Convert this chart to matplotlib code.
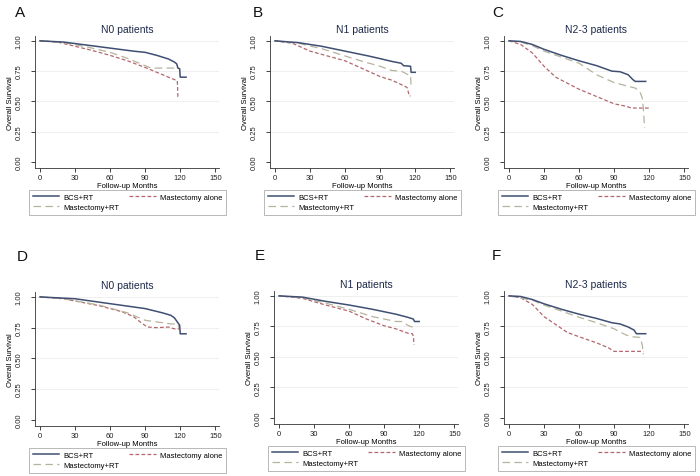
import matplotlib
matplotlib.use("Agg")
import matplotlib.pyplot as plt

plt.rcParams["font.family"] = ["Liberation Sans", "DejaVu Sans"]

# ---- data ----
# each curve: months, survival
A_bcs_x = [0, 20, 40, 60, 80, 90, 100, 110, 115, 117, 118, 119.5, 120, 125]
A_bcs_y = [1.0, 0.99, 0.965, 0.94, 0.915, 0.905, 0.88, 0.85, 0.825, 0.81, 0.775, 0.77, 0.70, 0.70]
A_ma_x = [0, 15, 30, 45, 60, 75, 90, 105, 117.5, 118, 120]
A_ma_y = [1.0, 0.99, 0.955, 0.92, 0.88, 0.835, 0.78, 0.72, 0.67, 0.54, 0.54]
A_mrt_x = [0, 20, 40, 60, 75, 90, 95, 118, 119]
A_mrt_y = [1.0, 0.985, 0.95, 0.905, 0.855, 0.795, 0.775, 0.775, 0.77]

B_bcs_x = [0, 20, 40, 60, 80, 90, 100, 108, 110, 116, 116.5, 120]
B_bcs_y = [1.0, 0.985, 0.955, 0.915, 0.875, 0.853, 0.83, 0.815, 0.795, 0.79, 0.74, 0.74]
B_ma_x = [0, 15, 30, 45, 60, 75, 90, 100, 110, 113, 115, 116]
B_ma_y = [1.0, 0.98, 0.915, 0.875, 0.835, 0.77, 0.705, 0.675, 0.63, 0.615, 0.545, 0.545]
B_mrt_x = [0, 20, 40, 60, 75, 90, 100, 108, 112, 115, 116, 116.5]
B_mrt_y = [1.0, 0.98, 0.935, 0.875, 0.83, 0.79, 0.755, 0.75, 0.73, 0.715, 0.715, 0.61]

C_bcs_x = [0, 10, 20, 30, 45, 60, 75, 88, 95, 102, 106, 108, 117]
C_bcs_y = [1.0, 0.995, 0.97, 0.93, 0.88, 0.835, 0.795, 0.75, 0.745, 0.72, 0.68, 0.665, 0.665]
C_ma_x = [0, 10, 20, 30, 40, 50, 60, 75, 90, 100, 105, 120]
C_ma_y = [1.0, 0.97, 0.90, 0.79, 0.70, 0.65, 0.60, 0.54, 0.48, 0.46, 0.445, 0.445]
C_mrt_x = [0, 10, 20, 30, 45, 60, 75, 90, 100, 108, 112, 114, 115, 116]
C_mrt_y = [1.0, 0.99, 0.96, 0.915, 0.865, 0.815, 0.72, 0.655, 0.63, 0.61, 0.58, 0.53, 0.44, 0.28]

D_bcs_x = [0, 30, 60, 90, 105, 112, 115, 118, 119.5, 120, 125]
D_bcs_y = [1.0, 0.985, 0.945, 0.905, 0.87, 0.85, 0.83, 0.79, 0.77, 0.70, 0.70]
D_ma_x = [0, 20, 50, 70, 80, 88, 92, 100, 110, 115, 119]
D_ma_y = [1.0, 0.985, 0.93, 0.88, 0.84, 0.78, 0.755, 0.75, 0.755, 0.74, 0.74]
D_mrt_x = [0, 20, 50, 75, 90, 105, 112, 118, 119]
D_mrt_y = [1.0, 0.985, 0.935, 0.87, 0.81, 0.79, 0.78, 0.78, 0.745]

E_bcs_x = [0, 20, 40, 60, 80, 100, 110, 115, 116, 120]
E_bcs_y = [1.0, 0.99, 0.955, 0.925, 0.89, 0.85, 0.825, 0.81, 0.79, 0.79]
E_ma_x = [0, 20, 40, 60, 75, 90, 100, 110, 114, 115, 115.5]
E_ma_y = [1.0, 0.98, 0.925, 0.875, 0.81, 0.755, 0.73, 0.695, 0.69, 0.67, 0.60]
E_mrt_x = [0, 20, 40, 60, 80, 90, 100, 105, 110, 115, 116]
E_mrt_y = [1.0, 0.985, 0.94, 0.89, 0.83, 0.81, 0.79, 0.79, 0.76, 0.74, 0.72]

F_bcs_x = [0, 10, 20, 30, 45, 60, 75, 88, 95, 102, 107, 109, 117]
F_bcs_y = [1.0, 0.995, 0.97, 0.935, 0.89, 0.85, 0.815, 0.78, 0.77, 0.745, 0.72, 0.69, 0.69]
F_ma_x = [0, 10, 20, 30, 40, 50, 60, 75, 85, 90, 110, 115]
F_ma_y = [1.0, 0.985, 0.93, 0.83, 0.765, 0.70, 0.665, 0.615, 0.575, 0.545, 0.545, 0.545]
F_mrt_x = [0, 20, 30, 45, 60, 75, 90, 100, 105, 112, 114, 115]
F_mrt_y = [1.0, 0.965, 0.925, 0.875, 0.825, 0.78, 0.73, 0.68, 0.665, 0.66, 0.60, 0.52]

letters = ["A", "B", "C", "D", "E", "F"]
titles = ["N0 patients", "N1 patients", "N2-3 patients"] * 2
curves = [
    (A_bcs_x, A_bcs_y, A_ma_x, A_ma_y, A_mrt_x, A_mrt_y),
    (B_bcs_x, B_bcs_y, B_ma_x, B_ma_y, B_mrt_x, B_mrt_y),
    (C_bcs_x, C_bcs_y, C_ma_x, C_ma_y, C_mrt_x, C_mrt_y),
    (D_bcs_x, D_bcs_y, D_ma_x, D_ma_y, D_mrt_x, D_mrt_y),
    (E_bcs_x, E_bcs_y, E_ma_x, E_ma_y, E_mrt_x, E_mrt_y),
    (F_bcs_x, F_bcs_y, F_ma_x, F_ma_y, F_mrt_x, F_mrt_y),
]
xticks = [0, 30, 60, 90, 120, 150]
yticks = [0.0, 0.25, 0.5, 0.75, 1.0]

# ---- layout (pixels) ----
W, H = 700, 477
lefts = [35.3, 270.3, 504.3, 35.3, 274.3, 504.3]
bottoms = [169, 169, 169, 427, 425, 425]
heights = [132, 132, 132, 134, 133, 133]
width = 183.5
letter_pos = [(15, 13), (253, 13), (492, 13), (17, 257), (255, 256), (492, 256)]

C_BCS = "#3f4f72"
C_MA = "#b3676d"
C_MRT = "#b5b39d"
FS = 5.5

fig = plt.figure(figsize=(W / 100, H / 100), dpi=100)

for i in range(6):
    l, b, h = lefts[i], bottoms[i], heights[i]
    ax = fig.add_axes([l / W, 1 - b / H, width / W, h / H])
    bx, by, mx, my, rx, ry = curves[i]
    hb, = ax.plot(bx, by, color=C_BCS, lw=1.1, zorder=4)
    hm, = ax.plot(mx, my, color=C_MA, lw=0.9, ls=(0, (3, 1.8)), zorder=3)
    hr, = ax.plot(rx, ry, color=C_MRT, lw=0.9, ls=(0, (6, 3.5)), zorder=3)

    ax.set_xlim(-4, 153)
    ax.set_ylim(-0.05, 1.04)
    for yv in yticks[1:]:
        ax.axhline(yv, color="#ececec", lw=0.6, zorder=1)
    ax.set_xticks(xticks)
    ax.set_yticks(yticks)
    ax.set_yticklabels([f"{v:.2f}" for v in yticks], rotation=90, va="center")
    ax.tick_params(axis="both", labelsize=FS, length=3, width=0.6, pad=1.5, colors="#222222")
    ax.tick_params(axis="y", pad=6)
    for s in ["top", "right"]:
        ax.spines[s].set_visible(False)
    for s in ["left", "bottom"]:
        ax.spines[s].set_linewidth(0.6)
        ax.spines[s].set_color("#333333")
    ax.set_xlabel("Follow-up Months", fontsize=FS, labelpad=0.5)
    ax.set_ylabel("Overall Survival", fontsize=FS, labelpad=1)
    ax.set_title(titles[i], fontsize=7.5, color="#1e2a4a", pad=3)

    # legend box below the axes, 2 columns
    leg = ax.legend([hb, hr, hm], ["BCS+RT", "Mastectomy+RT", "Mastectomy alone"],
                    ncol=2, loc="upper left",
                    bbox_to_anchor=(-6.5 / width, -22 / h),
                    fontsize=FS, frameon=True, fancybox=False,
                    handlelength=3.5, handletextpad=0.5, borderpad=0.5,
                    labelspacing=0.3, columnspacing=1.3, borderaxespad=0)
    leg.get_frame().set_edgecolor("#999999")
    leg.get_frame().set_linewidth(0.6)

    fig.text(letter_pos[i][0] / W, 1 - letter_pos[i][1] / H, letters[i],
             fontsize=11, va="center", ha="left", color="#111111")

fig.savefig("out.png", dpi=100)
